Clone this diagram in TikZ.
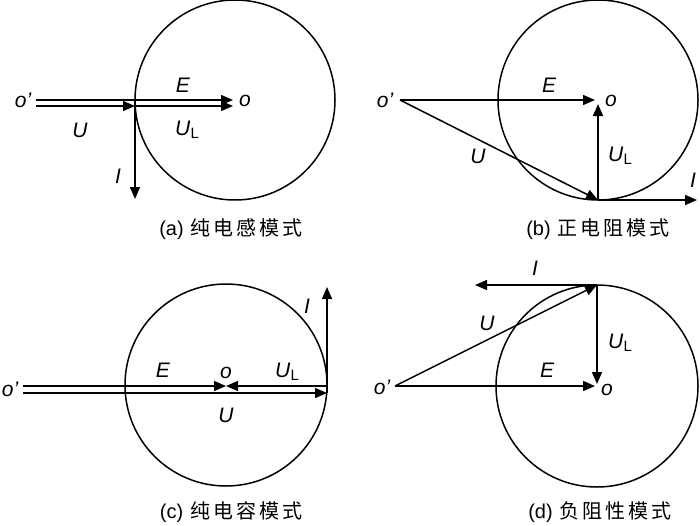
\documentclass[tikz,border=0pt]{standalone}
\usepackage{fontspec}
\setmainfont{Liberation Sans}
\newfontfamily\cjk{Noto Sans CJK SC}
\usetikzlibrary{arrows.meta}
\newcommand{\ULbl}{U\kern0.5pt\raisebox{-3pt}{\upshape\fontsize{15}{15}\selectfont L}}
\begin{document}
\begin{tikzpicture}[x=1pt,y=-1pt,
  vec/.style={line width=1.5pt,-{Triangle[length=12pt,width=10pt]}},
  plain/.style={line width=1.5pt},
  lbl/.style={font=\fontsize{21}{21}\selectfont\itshape, inner sep=0pt},
  captxt/.style={font=\fontsize{20}{20}\selectfont, inner sep=0pt}]
\useasboundingbox (0,0) rectangle (700,525);

% ---------- panel (a)
\coordinate (ao) at (235,100);
\coordinate (aE) at (233,100);
\coordinate (aos) at (36,100);
\coordinate (aus) at (36,106);
\coordinate (ap) at (135,106);
\coordinate (ap0) at (135,100);
\coordinate (aUL) at (233,106);
\coordinate (aI) at (135,199);
\draw[plain] (ao) circle[radius=100pt];
\draw[vec] (aos) -- (aE);
\draw[vec] (aus) -- (ap);
\draw[vec] (ap) -- (aUL);
\draw[vec] (ap0) -- (aI);
\node[lbl] (aoL) at (23,100) {o'};
\node[lbl] (aoT) at (245,101) {o};
\node[lbl] (aEL) at (183,85) {E};
\node[lbl] (aUL2) at (80,130) {U};
\node[lbl] (aULL) at (187,130) {\ULbl};
\node[lbl] (aIL) at (118,176) {I};
\node[captxt] (capa) at (231,229) {(a)\hspace{7pt}\cjk 纯\kern3pt 电\kern3pt 感\kern3pt 模\kern3pt 式};

% ---------- panel (b)
\coordinate (bo) at (598,100);
\coordinate (bos) at (400,100);
\coordinate (bE) at (595,100);
\coordinate (bp) at (598,200);
\coordinate (bUL) at (598,104);
\coordinate (bI) at (697,200);
\draw[plain] (bo) circle[radius=100pt];
\draw[vec] (bos) -- (bE);
\draw[vec] (bos) -- (bp);
\draw[vec] (bp) -- (bUL);
\draw[vec] (bp) -- (bI);
\node[lbl] (boL) at (385,100) {o'};
\node[lbl] (boT) at (611,101) {o};
\node[lbl] (bEL) at (549,85) {E};
\node[lbl] (bUL2) at (478,156) {U};
\node[lbl] (bULL) at (620,156) {\ULbl};
\node[lbl] (bIL) at (693,180) {I};
\node[captxt] (capb) at (598,229) {(b)\hspace{7pt}\cjk 正\kern3pt 电\kern3pt 阻\kern3pt 模\kern3pt 式};

% ---------- panel (c)
\coordinate (co) at (226,385);
\coordinate (cos) at (23,386);
\coordinate (cus) at (23,393);
\coordinate (cE) at (226,386);
\coordinate (cq) at (327,386);
\coordinate (cq2) at (327,393);
\coordinate (cI) at (327,287);
\draw[plain] (co) circle[radius=101pt];
\draw[vec] (cos) -- (cE);
\draw[vec] (cq) -- (cE);
\draw[vec] (cus) -- (cq2);
\draw[vec] (cq2) -- (cI);
\node[lbl] (coL) at (10,389) {o'};
\node[lbl] (coT) at (226,373) {o};
\node[lbl] (cEL) at (163,370) {E};
\node[lbl] (cULL) at (287,372) {\ULbl};
\node[lbl] (cUL2) at (226,415) {U};
\node[lbl] (cIL) at (307,306) {I};
\node[captxt] (capc) at (231,512) {(c)\hspace{7pt}\cjk 纯\kern3pt 电\kern3pt 容\kern3pt 模\kern3pt 式};

% ---------- panel (d)
\coordinate (do) at (597,386);
\coordinate (dos) at (395,386);
\coordinate (dE) at (595,386);
\coordinate (dp) at (597,285);
\coordinate (dUL) at (597,384);
\coordinate (dI) at (475,285);
\draw[plain] (do) circle[radius=101pt];
\draw[vec] (dos) -- (dE);
\draw[vec] (dos) -- (dp);
\draw[vec] (dp) -- (dUL);
\draw[vec] (dp) -- (dI);
\node[lbl] (doL) at (382,387) {o'};
\node[lbl] (doT) at (607,390) {o};
\node[lbl] (dIL) at (535,268) {I};
\node[lbl] (dUL2) at (487,323) {U};
\node[lbl] (dULL) at (620,343) {\ULbl};
\node[lbl] (dEL) at (547,370) {E};
\node[captxt] (capd) at (600,512) {(d)\hspace{7pt}\cjk 负\kern3pt 阻\kern3pt 性\kern3pt 模\kern3pt 式};
\end{tikzpicture}
\end{document}
